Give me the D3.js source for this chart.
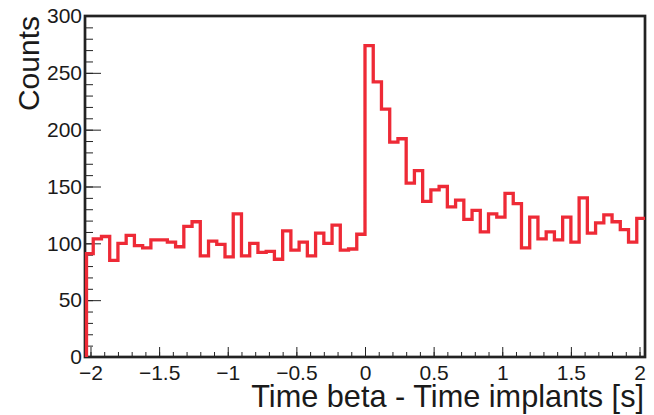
<!DOCTYPE html>
<html>
<head>
<meta charset="utf-8">
<script src="https://cdn.jsdelivr.net/npm/d3@7"></script>
<style>
  body { margin: 0; background: #fff; }
  svg { display: block; }
  text { font-family: "Liberation Sans", Arial, sans-serif; fill: #1a1a1a; }
</style>
</head>
<body>
<svg width="654" height="415"></svg>
<script>
// histogram: 68 bins of 0.06 s from -2.04 to 2.04
var binStart = -2.04;
var binWidth = 0.06;
var counts = [
  91, 104, 106, 85, 100, 107, 98, 96, 103, 103,
  101, 97, 115, 119, 89, 102, 99, 88, 126, 89,
  100, 92, 93, 86, 111, 94, 101, 89, 109, 100,
  116, 94, 95, 108, 274, 242, 218, 189, 192, 153,
  164, 137, 147, 150, 132, 138, 121, 129, 110, 126,
  123, 144, 135, 96, 123, 104, 110, 103, 123, 101,
  140, 109, 118, 125, 119, 112, 101, 122
];
var xMajor = [-2, -1.5, -1, -0.5, 0, 0.5, 1, 1.5, 2];
var yMajor = [0, 50, 100, 150, 200, 250, 300];

var width = 654, height = 415;
var margin = { left: 85, right: 9, top: 16, bottom: 58 };

var xScale = d3.scaleLinear()
  .domain([binStart, binStart + counts.length * binWidth])
  .range([margin.left, width - margin.right]);
var yScale = d3.scaleLinear()
  .domain([0, 300])
  .range([height - margin.bottom, margin.top]);

var svg = d3.select('svg');

// minor ticks
var xMinor = d3.range(-20, 21).map(function(d) { return d / 10; });
var yMinor = d3.range(0, 301, 10);

svg.append('g')
  .attr('transform', 'translate(0,' + (height - margin.bottom) + ')')
  .call(d3.axisBottom(xScale).tickValues(xMinor).tickSize(-5).tickFormat(''))
  .call(function(g) { g.select('.domain').remove(); });

svg.append('g')
  .attr('transform', 'translate(' + margin.left + ',0)')
  .call(d3.axisLeft(yScale).tickValues(yMinor).tickSize(-8).tickFormat(''))
  .call(function(g) { g.select('.domain').remove(); });

// major ticks + labels
var xAxis = svg.append('g')
  .attr('transform', 'translate(0,' + (height - margin.bottom) + ')')
  .call(d3.axisBottom(xScale).tickValues(xMajor).tickSize(-10).tickPadding(8)
    .tickFormat(function(d) { return d < 0 ? '\u2212' + Math.abs(d) : d; }));
xAxis.select('.domain').remove();

var yAxis = svg.append('g')
  .attr('transform', 'translate(' + margin.left + ',0)')
  .call(d3.axisLeft(yScale).tickValues(yMajor).tickSize(-16).tickPadding(3));
yAxis.select('.domain').remove();

svg.selectAll('.tick line').attr('stroke', '#222');
svg.selectAll('.tick text')
  .style('font-size', '21px')
  .attr('fill', '#1a1a1a');

// frame
svg.append('rect')
  .attr('x', margin.left)
  .attr('y', margin.top)
  .attr('width', width - margin.left - margin.right)
  .attr('height', height - margin.top - margin.bottom)
  .attr('fill', 'none')
  .attr('stroke', '#222')
  .attr('stroke-width', 2.7);

// histogram outline
var pts = [[xScale(binStart) + 1.5, yScale(0)]];
counts.forEach(function(c, i) {
  var x0 = xScale(binStart + i * binWidth);
  var x1 = xScale(binStart + (i + 1) * binWidth);
  pts.push([i === 0 ? x0 + 1.5 : x0, yScale(c)]);
  pts.push([x1, yScale(c)]);
});

svg.append('path')
  .attr('d', d3.line()(pts))
  .attr('fill', 'none')
  .attr('stroke', '#ee2a36')
  .attr('stroke-width', 3.3)
  .attr('stroke-linejoin', 'miter');

// titles
svg.append('text')
  .attr('x', width - margin.right - 1)
  .attr('y', 407)
  .attr('text-anchor', 'end')
  .style('font-size', '30.7px')
  .text('Time beta - Time implants [s]');

svg.append('text')
  .attr('transform', 'translate(38.5,' + margin.top + ') rotate(-90)')
  .attr('text-anchor', 'end')
  .style('font-size', '30px')
  .text('Counts');
</script>
</body>
</html>
